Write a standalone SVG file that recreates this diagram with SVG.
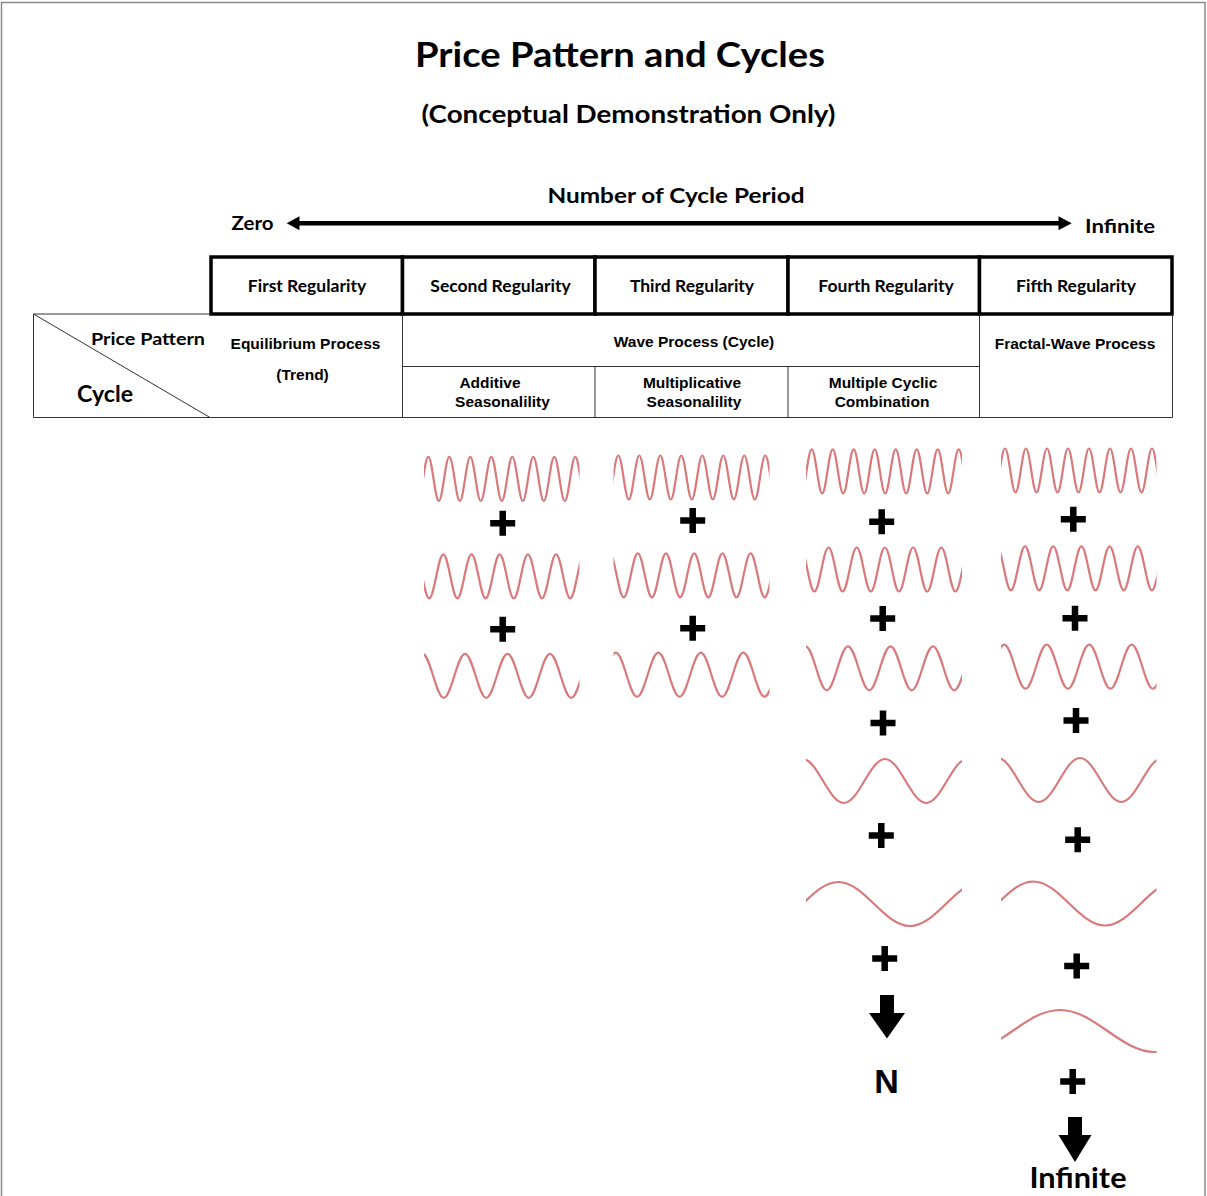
<svg xmlns="http://www.w3.org/2000/svg" xmlns:xlink="http://www.w3.org/1999/xlink" width="1207" height="1196" viewBox="0 0 1207 1196">
<style>
.cal{font-family:Lato,"Open Sans","Liberation Sans",sans-serif;font-weight:bold;fill:#000}
.ari{font-family:"Liberation Sans",Arial,sans-serif;font-weight:bold;fill:#000;font-size:15.5px;text-anchor:middle}
.hdr{font-size:17.5px;text-anchor:middle}
.box{fill:#fff;stroke:#000;stroke-width:3.5}
.thin{stroke:#333;stroke-width:1;fill:none}
.wave{fill:none;stroke:#d9797b;stroke-width:2.2}
.plus{stroke:#000;stroke-width:6.5;fill:none}
</style>
<defs>
<path id="w1" class="wave" d="M0,-22c3.82,0 6.68,44 10.5,44s6.68,-44 10.5,-44s6.68,44 10.5,44s6.68,-44 10.5,-44s6.68,44 10.5,44s6.68,-44 10.5,-44s6.68,44 10.5,44s6.68,-44 10.5,-44s6.68,44 10.5,44s6.68,-44 10.5,-44s6.68,44 10.5,44s6.68,-44 10.5,-44s6.68,44 10.5,44s6.68,-44 10.5,-44s6.68,44 10.5,44s6.68,-44 10.5,-44s6.68,44 10.5,44s6.68,-44 10.5,-44"/>
<path id="w2" class="wave" d="M0,-22c5.14,0 8.96,44 14.1,44s8.96,-44 14.1,-44s8.96,44 14.1,44s8.96,-44 14.1,-44s8.96,44 14.1,44s8.96,-44 14.1,-44s8.96,44 14.1,44s8.96,-44 14.1,-44s8.96,44 14.1,44s8.96,-44 14.1,-44s8.96,44 14.1,44s8.96,-44 14.1,-44s8.96,44 14.1,44s8.96,-44 14.1,-44"/>
<path id="w3" class="wave" d="M0,-22c7.74,0 13.51,44 21.25,44s13.51,-44 21.25,-44s13.51,44 21.25,44s13.51,-44 21.25,-44s13.51,44 21.25,44s13.51,-44 21.25,-44s13.51,44 21.25,44s13.51,-44 21.25,-44s13.51,44 21.25,44s13.51,-44 21.25,-44"/>
<path id="w4" class="wave" d="M0,-22c15.02,0 26.23,44 41.25,44s26.23,-44 41.25,-44s26.23,44 41.25,44s26.23,-44 41.25,-44s26.23,44 41.25,44s26.23,-44 41.25,-44"/>
<path id="w5" class="wave" d="M0,-22c26.11,0 45.59,44 71.7,44s45.59,-44 71.7,-44s45.59,44 71.7,44s45.59,-44 71.7,-44"/>
<path id="w6" class="wave" d="M0,-21c34.6,0 60.4,42 95,42s60.4,-42 95,-42s60.4,42 95,42s60.4,-42 95,-42"/>
<path id="plus" class="plus" d="M-12.5,0H12.5M0,-12.5V12.5"/>
<clipPath id="c2"><rect x="424" y="430" width="155.5" height="300"/></clipPath>
<clipPath id="c3"><rect x="613.5" y="430" width="156" height="300"/></clipPath>
<clipPath id="c4"><rect x="806" y="430" width="156" height="520"/></clipPath>
<clipPath id="c5"><rect x="1001" y="430" width="155.5" height="650"/></clipPath>
</defs>
<rect x="1.5" y="2.5" width="1203.5" height="1200" fill="#fff" stroke="#8a8a8a" stroke-width="1.5"/>

<g id="title">
<text class="cal" x="620" y="67" font-size="35" text-anchor="middle" textLength="410" lengthAdjust="spacingAndGlyphs">Price Pattern and Cycles</text>
<text class="cal" x="628.5" y="123" font-size="25" text-anchor="middle" textLength="414" lengthAdjust="spacingAndGlyphs">(Conceptual Demonstration Only)</text>
</g>

<g id="axis">
<text class="cal" x="676" y="203" font-size="21" text-anchor="middle" textLength="257" lengthAdjust="spacingAndGlyphs">Number of Cycle Period</text>
<text class="cal" x="231.5" y="230" font-size="19" textLength="42" lengthAdjust="spacingAndGlyphs">Zero</text>
<text class="cal" x="1085" y="232.5" font-size="19" textLength="70" lengthAdjust="spacingAndGlyphs">Infinite</text>
</g>

<g id="connectors">
<line x1="296" y1="223.3" x2="1062" y2="223.3" stroke="#000" stroke-width="4.5"/>
<polygon points="286.7,223.3 299.5,216.3 299.5,230.3" fill="#000"/>
<polygon points="1071.7,223.3 1058.5,216.3 1058.5,230.3" fill="#000"/>
<rect x="880" y="995" width="14" height="19" fill="#000"/>
<polygon points="869,1013 905,1013 887,1038.5" fill="#000"/>
<rect x="1068" y="1117" width="14" height="19" fill="#000"/>
<polygon points="1058.5,1135 1091.5,1135 1075,1162" fill="#000"/>
</g>

<g id="header">
<g id="reg1"><rect class="box" x="211" y="257" width="191.5" height="57"/><text class="cal hdr" x="307" y="291.5">First Regularity</text></g>
<g id="reg2"><rect class="box" x="402.5" y="257" width="192.5" height="57"/><text class="cal hdr" x="500.5" y="291.5">Second Regularity</text></g>
<g id="reg3"><rect class="box" x="595" y="257" width="193" height="57"/><text class="cal hdr" x="692" y="291.5">Third Regularity</text></g>
<g id="reg4"><rect class="box" x="788" y="257" width="191.5" height="57"/><text class="cal hdr" x="886" y="291.5">Fourth Regularity</text></g>
<g id="reg5"><rect class="box" x="979.5" y="257" width="192.5" height="57"/><text class="cal hdr" x="1076" y="291.5">Fifth Regularity</text></g>
</g>

<g id="table">
<path class="thin" d="M33.5,314V417.5H1172.5V314M33.5,314H211M33.5,314L210,417.5M402.5,314V417.5M979.5,314V417.5M402.5,366.5H979.5M595,366.5V417.5M788,366.5V417.5"/>
<text class="cal" x="91" y="344.5" font-size="17.5" textLength="114" lengthAdjust="spacingAndGlyphs">Price Pattern</text>
<text class="cal" x="77" y="402" font-size="22" textLength="56" lengthAdjust="spacingAndGlyphs">Cycle</text>
<text class="ari" x="305.5" y="349">Equilibrium Process</text>
<text class="ari" x="302.5" y="380">(Trend)</text>
<text class="ari" x="694" y="346.5">Wave Process (Cycle)</text>
<text class="ari" x="1075" y="348.5">Fractal-Wave Process</text>
<text class="ari" x="490" y="387.5">Additive</text>
<text class="ari" x="502.5" y="407">Seasonalility</text>
<text class="ari" x="692" y="387.5">Multiplicative</text>
<text class="ari" x="694" y="407">Seasonalility</text>
<text class="ari" x="883" y="387.5">Multiple Cyclic</text>
<text class="ari" x="882" y="407">Combination</text>
</g>

<g id="col-additive">
<g clip-path="url(#c2)">
<use xlink:href="#w1" transform="translate(407.3,478.8)"/>
<use xlink:href="#w2" transform="translate(415.1,576.3)"/>
<use xlink:href="#w3" transform="translate(422.5,675.8)"/>
</g>
<use xlink:href="#plus" transform="translate(502.7,523.3)"/>
<use xlink:href="#plus" transform="translate(502.7,629.3)"/>
</g>

<g id="col-multiplicative">
<g clip-path="url(#c3)">
<use xlink:href="#w1" transform="translate(597.3,477.5)"/>
<use xlink:href="#w2" transform="translate(609.6,575.3)"/>
<use xlink:href="#w3" transform="translate(573.3,674.7)"/>
</g>
<use xlink:href="#plus" transform="translate(692.7,520.5)"/>
<use xlink:href="#plus" transform="translate(692.7,628.3)"/>
</g>

<g id="col-multiple">
<g clip-path="url(#c4)">
<use xlink:href="#w1" transform="translate(790.7,471.3)"/>
<use xlink:href="#w2" transform="translate(800.3,569.5)"/>
<use xlink:href="#w3" transform="translate(805.5,668.3)"/>
<use xlink:href="#w4" transform="translate(802.5,781)"/>
<use xlink:href="#w5" transform="translate(694.9,904)"/>
</g>
<use xlink:href="#plus" transform="translate(881.7,521.7)"/>
<use xlink:href="#plus" transform="translate(882.7,618.5)"/>
<use xlink:href="#plus" transform="translate(883,723)"/>
<use xlink:href="#plus" transform="translate(881.3,835.5)"/>
<use xlink:href="#plus" transform="translate(884.7,958.5)"/>
<text x="886.5" y="1093" font-family="Liberation Sans, Arial, sans-serif" font-weight="bold" font-size="34" text-anchor="middle">N</text>
</g>

<g id="col-fractal">
<g clip-path="url(#c5)">
<use xlink:href="#w1" transform="translate(984,470.5)"/>
<use xlink:href="#w2" transform="translate(996.8,568.3)"/>
<use xlink:href="#w3" transform="translate(961.7,666.7)"/>
<use xlink:href="#w4" transform="translate(997.5,780)"/>
<use xlink:href="#w5" transform="translate(889.9,903.5)"/>
<use xlink:href="#w6" transform="translate(870,1031)"/>
</g>
<use xlink:href="#plus" transform="translate(1073.3,519.3)"/>
<use xlink:href="#plus" transform="translate(1075,618.3)"/>
<use xlink:href="#plus" transform="translate(1076,720.5)"/>
<use xlink:href="#plus" transform="translate(1077.7,839.8)"/>
<use xlink:href="#plus" transform="translate(1076.7,966)"/>
<use xlink:href="#plus" transform="translate(1072.7,1081.5)"/>
<text class="cal" x="1078" y="1188" font-size="28" text-anchor="middle" textLength="97" lengthAdjust="spacingAndGlyphs">Infinite</text>
</g>
</svg>
